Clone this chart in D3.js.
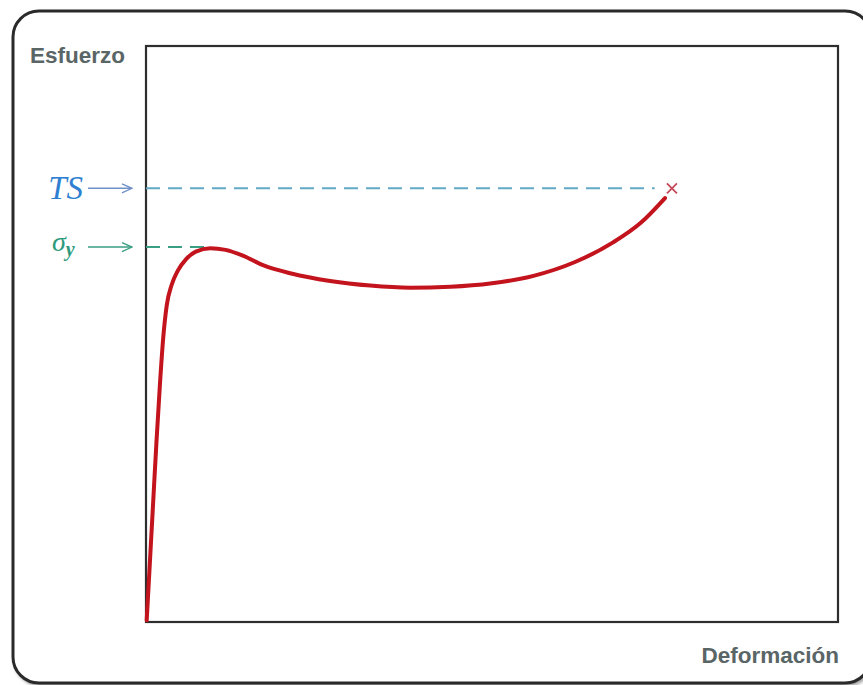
<!DOCTYPE html>
<html>
<head>
<meta charset="utf-8">
<script src="https://cdn.jsdelivr.net/npm/d3@7"></script>
<style>
  html, body { margin: 0; padding: 0; background: #fff; }
  svg { display: block; }
</style>
</head>
<body>
<svg id="chart" width="863" height="685"></svg>
<script>
// ---- data ----
const strain = [0.1, 0.5, 1.0, 1.5, 2.0, 2.5, 3.0, 3.7, 4.6, 5.8, 7.2, 9.3, 11.5, 14.0, 17.0, 21.0, 26.6, 32.4, 38.2, 44.0, 50.0, 56.0, 62.0, 67.5, 71.5, 75.0];
const stress = [0.3, 9.0, 20.0, 31.0, 41.0, 49.5, 55.0, 58.5, 61.0, 63.0, 64.3, 64.9, 64.6, 63.6, 61.9, 60.5, 59.2, 58.4, 58.05, 58.2, 58.8, 60.1, 62.5, 65.9, 69.3, 73.6];
const levelNames = ["TS", "σy"];
const levelValues = [75.3, 65.1];
const levelEnds = [73.5, 9.0];
const fracture = {strain: 76.0, stress: 75.3};
const axisLabels = {y: "Esfuerzo", x: "Deformación"};

// ---- drawing ----
const svg = d3.select("#chart");
const x = d3.scaleLinear().domain([0, 100]).range([146, 838]);
const y = d3.scaleLinear().domain([0, 100]).range([622, 46]);

const defs = svg.append("defs");
const f = defs.append("filter").attr("id", "sh").attr("x", "-5%").attr("y", "-5%").attr("width", "115%").attr("height", "115%");
f.append("feDropShadow").attr("dx", 2).attr("dy", 2).attr("stdDeviation", 1.5).attr("flood-color", "#000").attr("flood-opacity", 0.35);

svg.append("rect")
  .attr("x", 13).attr("y", 11).attr("width", 858).attr("height", 672)
  .attr("rx", 26).attr("ry", 26)
  .attr("fill", "#fff").attr("stroke", "#2a2a2a").attr("stroke-width", 3)
  .attr("filter", "url(#sh)");

svg.append("rect")
  .attr("x", x(0)).attr("y", y(100))
  .attr("width", x(100) - x(0)).attr("height", y(0) - y(100))
  .attr("fill", "none").attr("stroke", "#2e2e2e").attr("stroke-width", 2.2);

svg.append("text").attr("x", 30).attr("y", 63)
  .attr("font-family", "Liberation Sans, Arial, sans-serif").attr("font-weight", "bold")
  .attr("font-size", 22.5).attr("fill", "#5a6566").text(axisLabels.y);
svg.append("text").attr("x", 839).attr("y", 663).attr("text-anchor", "end")
  .attr("font-family", "Liberation Sans, Arial, sans-serif").attr("font-weight", "bold")
  .attr("font-size", 22.5).attr("fill", "#5a6566").text(axisLabels.x);

function arrowMarker(id, color) {
  defs.append("marker").attr("id", id)
    .attr("viewBox", "0 0 12 12").attr("refX", 11).attr("refY", 6)
    .attr("markerWidth", 12).attr("markerHeight", 12).attr("markerUnits", "userSpaceOnUse")
    .attr("orient", "auto")
    .append("path").attr("d", "M1,1.5 L11,6 L1,10.5")
    .attr("fill", "none").attr("stroke", color).attr("stroke-width", 1.4);
}
const arrowColors = ["#7090c8", "#3a9e82"];
const dashColors = ["#62a9c6", "#3a9e82"];
const labelColors = ["#2f7fd2", "#2e9a7c"];
arrowMarker("a0", arrowColors[0]);
arrowMarker("a1", arrowColors[1]);

levelValues.forEach((v, i) => {
  const yy = y(v);
  svg.append("line").attr("x1", 88).attr("x2", 132).attr("y1", yy).attr("y2", yy)
    .attr("stroke", arrowColors[i]).attr("stroke-width", 1.4).attr("marker-end", `url(#a${i})`);
  svg.append("line").attr("x1", x(0)).attr("x2", x(levelEnds[i])).attr("y1", yy).attr("y2", yy)
    .attr("stroke", dashColors[i]).attr("stroke-width", 1.8).attr("stroke-dasharray", "14,8");
});

svg.append("text").attr("x", 83).attr("y", y(levelValues[0]) + 11).attr("text-anchor", "end")
  .attr("font-family", "Liberation Serif, Times New Roman, serif").attr("font-style", "italic")
  .attr("font-size", 33).attr("fill", labelColors[0]).text(levelNames[0]);

const sg = svg.append("text").attr("x", 52).attr("y", y(levelValues[1]) + 4)
  .attr("font-family", "Liberation Serif, Times New Roman, serif").attr("font-style", "italic")
  .attr("font-size", 28).attr("fill", labelColors[1]);
sg.append("tspan").text(levelNames[1].charAt(0));
sg.append("tspan").attr("font-size", 20).attr("font-weight", "bold").attr("dy", 5).text(levelNames[1].charAt(1));

const pts = strain.map((s, i) => [s, stress[i]]);
svg.append("path").datum(pts)
  .attr("d", d3.line().x(d => x(d[0])).y(d => y(d[1])).curve(d3.curveMonotoneX))
  .attr("fill", "none").attr("stroke", "#c3141d").attr("stroke-width", 4).attr("stroke-linecap", "round");

const fx = x(fracture.strain), fy = y(fracture.stress), r = 5;
svg.append("path")
  .attr("d", `M${fx - r},${fy - r}L${fx + r},${fy + r}M${fx + r},${fy - r}L${fx - r},${fy + r}`)
  .attr("stroke", "#c44a58").attr("stroke-width", 1.8).attr("fill", "none");
</script>
</body>
</html>
